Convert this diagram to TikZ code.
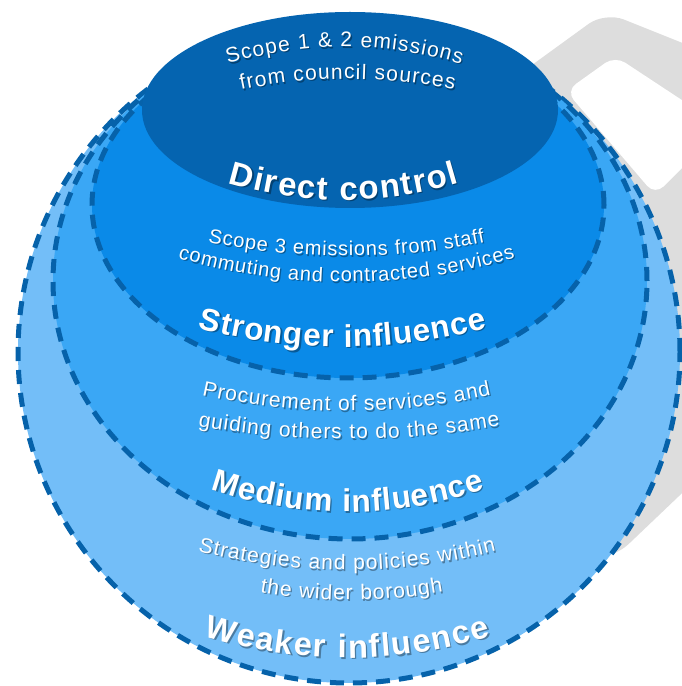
\documentclass[tikz,border=0pt]{standalone}
\usepackage{fontspec}
\setmainfont{Liberation Sans}
\usetikzlibrary{decorations.text}

\definecolor{ringdark}{RGB}{5,100,176}
\definecolor{ringstrong}{RGB}{10,138,232}
\definecolor{ringmedium}{RGB}{58,167,245}
\definecolor{ringweak}{RGB}{115,190,248}
\definecolor{ringline}{RGB}{6,98,170}
\definecolor{backgray}{RGB}{221,221,221}

% text along the lower part of a circle: centre x, y of the ends, half width, sag, font, text
\newcommand\smiletext[6]{%
  \pgfmathsetmacro\rad{(#3/#4*#3+#4)/2}%
  \pgfmathsetmacro\ang{asin(#3/\rad)}%
  \foreach \dx/\col/\op in {1.3/black/0.35, 0/white/1}{%
    \begin{scope}[opacity=\op]
      \path[decorate, decoration={text along path, text align=fit to path, text={|\color{\col}#5|#6}}]
        (#1-#3+\dx, #2-\dx) arc[start angle=270-\ang, end angle=270+\ang, radius=\rad];
    \end{scope}}}
% same along the upper part of a circle
\newcommand\archtext[6]{%
  \pgfmathsetmacro\rad{(#3/#4*#3+#4)/2}%
  \pgfmathsetmacro\ang{asin(#3/\rad)}%
  \foreach \dx/\col/\op in {1.3/black/0.35, 0/white/1}{%
    \begin{scope}[opacity=\op]
      \path[decorate, decoration={text along path, text align=fit to path, text={|\color{\col}#5|#6}}]
        (#1-#3+\dx, #2-\dx) arc[start angle=90+\ang, end angle=90-\ang, radius=\rad];
    \end{scope}}}

\begin{document}
\begin{tikzpicture}[x=1pt, y=1pt,
    ring/.style={draw=ringline, line width=5pt, dash pattern=on 14pt off 9pt}]
  \clip (0,0) rectangle (682,686);

  % grey mark behind the rings
  \fill[backgray, rounded corners=20pt] (470,576) -- (605,674) -- (700,636) -- (700,210)
    -- (614,128) -- (450,126) -- cycle;
  \fill[white, rounded corners=12pt] (566,595) -- (615,630) -- (700,574) -- (700,536)
    -- (655,491) -- cycle;

  % rings
  \filldraw[ring, fill=ringweak] (349,334) circle[radius=331];
  \filldraw[ring, fill=ringmedium] (350,405) ellipse[x radius=297, y radius=258];
  \filldraw[ring, fill=ringstrong] (348,481) ellipse[x radius=256, y radius=173];
  \fill[ringdark] (350,576) ellipse[x radius=208, y radius=98];

  % labels
  \archtext{344.5}{622}{116.5}{17}{\fontsize{21}{21}\selectfont}{Scope 1 {\&} 2 emissions}
  \archtext{347.5}{596}{106.5}{11}{\fontsize{21}{21}\selectfont}{from council sources}
  \smiletext{343.5}{503}{115.5}{17}{\fontsize{33}{33}\selectfont\bfseries}{Direct control}
  \smiletext{346.5}{444}{138.5}{14}{\fontsize{20}{20}\selectfont}{Scope 3 emissions from staff}
  \smiletext{346.5}{428}{168.5}{24}{\fontsize{20}{20}\selectfont}{commuting and contracted services}
  \smiletext{342.5}{358}{144.5}{19}{\fontsize{31.5}{31.5}\selectfont\bfseries}{Stronger influence}
  \smiletext{346.5}{291}{144.5}{16}{\fontsize{21}{21}\selectfont}{Procurement of services and}
  \smiletext{349}{260}{151}{13}{\fontsize{21}{21}\selectfont}{guiding others to do the same}
  \smiletext{348}{197}{137}{23}{\fontsize{31.5}{31.5}\selectfont\bfseries}{Medium influence}
  \smiletext{347}{135}{149}{19}{\fontsize{21}{21}\selectfont}{Strategies and policies within}
  \smiletext{351.5}{94}{91.5}{8}{\fontsize{21}{21}\selectfont}{the wider borough}
  \smiletext{347.5}{50}{143.5}{22}{\fontsize{32.5}{32.5}\selectfont\bfseries}{Weaker influence}
\end{tikzpicture}
\end{document}
